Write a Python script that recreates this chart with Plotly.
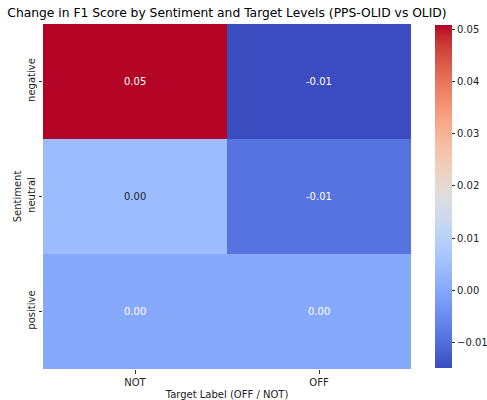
import plotly.graph_objects as go

targets = ["NOT", "OFF"]
sentiments = ["negative", "neutral", "positive"]
delta_not = [0.0508, 0.0042, 0.0003]
delta_off = [-0.0149, -0.0090, 0.0003]
cbar_ticks = [-0.01, 0.0, 0.01, 0.02, 0.03, 0.04, 0.05]

z = [[a, b] for a, b in zip(delta_not, delta_off)]

coolwarm = [
    (59, 76, 192), (68, 90, 204), (77, 104, 215), (87, 117, 225), (98, 130, 234),
    (108, 142, 241), (119, 154, 247), (130, 165, 251), (141, 176, 254), (152, 185, 255),
    (163, 194, 255), (174, 201, 253), (184, 208, 249), (194, 213, 244), (204, 217, 238),
    (213, 219, 230), (221, 221, 221), (229, 216, 209), (236, 211, 197), (241, 204, 185),
    (245, 196, 173), (247, 187, 160), (247, 177, 148), (247, 166, 135), (244, 154, 123),
    (241, 141, 111), (236, 127, 99), (229, 112, 88), (222, 96, 77), (213, 80, 66),
    (203, 62, 56), (192, 40, 47), (180, 4, 38),
]
n = len(coolwarm) - 1
cscale = [[i / n, f"rgb{c}"] for i, c in enumerate(coolwarm)]

zmin = min(min(delta_not), min(delta_off))
zmax = max(max(delta_not), max(delta_off))

L, R, T, B = 43, 411, 24, 369
W, H = 487, 400

fig = go.Figure(go.Heatmap(
    z=z, x=targets, y=sentiments, colorscale=cscale, zmin=zmin, zmax=zmax,
    xgap=0, ygap=0, hoverinfo="skip",
    colorbar=dict(
        x=(435 - L) / (R - L), xanchor="left", y=0.5, yanchor="middle",
        lenmode="pixels", len=343, thickness=17, ypad=0, xpad=0,
        outlinewidth=0, tickvals=cbar_ticks, tickformat=".2f",
        ticks="outside", ticklen=3.5, tickwidth=0.8, tickcolor="#333",
        tickfont=dict(family="DejaVu Sans", size=10, color="#222"),
    ),
))


def lum(v):
    t = (v - zmin) / (zmax - zmin) * n
    i0 = min(int(t), n - 1)
    fr = t - i0
    rgb = [(coolwarm[i0][k] * (1 - fr) + coolwarm[i0 + 1][k] * fr) / 255 for k in range(3)]
    f = lambda c: c / 12.92 if c <= 0.03928 else ((c + 0.055) / 1.055) ** 2.4
    return 0.2126 * f(rgb[0]) + 0.7152 * f(rgb[1]) + 0.0722 * f(rgb[2])


for i, s in enumerate(sentiments):
    for j, t in enumerate(targets):
        v = z[i][j]
        txt = f"{v:.2f}"
        if txt == "-0.00":
            txt = "0.00"
        fig.add_annotation(
            x=t, y=s, text=txt, showarrow=False,
            font=dict(family="DejaVu Sans", size=10,
                      color="#262626" if lum(v) > 0.408 else "white"),
        )

fig.update_layout(
    width=W, height=H,
    margin=dict(l=L, r=W - R, t=T, b=H - B, autoexpand=False),
    paper_bgcolor="white", plot_bgcolor="white",
    title=dict(text="Change in F1 Score by Sentiment and Target Levels (PPS-OLID vs OLID)",
               x=(L + R) / 2 / W, xanchor="center", y=1 - 12.5 / H, yanchor="middle",
               font=dict(family="DejaVu Sans", size=12.3, color="black")),
    font=dict(family="DejaVu Sans", color="#222"),
)
fig.update_xaxes(
    title=dict(text="Target Label (OFF / NOT)", font=dict(size=10, color="#222"), standoff=6),
    tickfont=dict(size=10, color="#222"), ticks="outside", ticklen=3.5, tickwidth=0.8,
    tickcolor="#333", showgrid=False, zeroline=False, showline=False, automargin=False,
)
fig.update_yaxes(
    title=dict(text="Sentiment", font=dict(size=10, color="#222"), standoff=2),
    tickfont=dict(size=10, color="#222"), ticks="outside", ticklen=3.5, tickwidth=0.8,
    tickcolor="#333", tickangle=-90, autorange="reversed",
    showgrid=False, zeroline=False, showline=False, automargin=False,
)

fig.write_html("out.html", config={"displayModeBar": False},
               post_script="document.body.style.margin='0';")
